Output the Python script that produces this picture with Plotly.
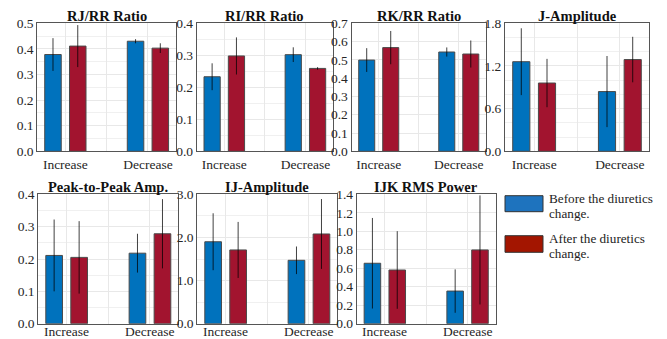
import plotly.graph_objects as go

# ---------------- data ----------------
categories = ["Increase", "Decrease"]
titles = ["RJ/RR Ratio", "RI/RR Ratio", "RK/RR Ratio", "J-Amplitude",
          "Peak-to-Peak Amp.", "IJ-Amplitude", "IJK RMS Power"]

before_mean = [
    [0.378, 0.430],
    [0.233, 0.302],
    [0.499, 0.543],
    [1.26, 0.84],
    [0.211, 0.218],
    [1.90, 1.47],
    [0.654, 0.353],
]
before_err = [
    [0.064, 0.008],
    [0.042, 0.023],
    [0.065, 0.025],
    [0.47, 0.50],
    [0.111, 0.060],
    [0.66, 0.32],
    [0.49, 0.235],
]
after_mean = [
    [0.411, 0.403],
    [0.298, 0.259],
    [0.567, 0.532],
    [0.96, 1.29],
    [0.205, 0.278],
    [1.71, 2.08],
    [0.581, 0.798],
]
after_err = [
    [0.082, 0.019],
    [0.058, 0.004],
    [0.091, 0.074],
    [0.34, 0.32],
    [0.112, 0.107],
    [0.65, 0.81],
    [0.42, 0.59],
]

y_ranges = [[0, 0.5], [0, 0.4], [0, 0.7], [0, 1.8], [0, 0.4], [0, 3.0], [0, 1.4]]
y_dticks = [0.1, 0.1, 0.1, 0.6, 0.1, 1.0, 0.2]
y_minor = [0.05, 0.05, None, 0.2, 0.05, 0.5, None]

legend_labels = [["Before the diuretics", "change."], ["After the diuretics", "change."]]

# ---------------- layout geometry ----------------
# The page body has an 8px margin, so the figure is drawn at (8, 8) in the window.
OFF = 8
W, H = 667 - OFF, 339 - OFF


def fx(px):
    return (px - OFF) / W


def fy(py):
    return 1 - (py - OFF) / H


x_px = [(37.3, 176), (196.7, 333), (351.5, 486), (505, 649),
        (38.3, 178.3), (197.3, 337.3), (356.7, 495.7)]
top_row_px = (23.3, 151.3)
bot_row_px = (194.3, 323.7)

BLUE = "#0072BD"
RED = "#A2142F"
FONT = "Liberation Serif"
xpos = [0, 1]

fig = go.Figure()
layout = dict(
    template="none",
    width=W, height=H, margin=dict(l=0, r=0, t=0, b=0, pad=0, autoexpand=False),
    paper_bgcolor="white", plot_bgcolor="white",
    showlegend=False,
    font=dict(family=FONT, size=13, color="#262626"),
)
annotations = []
shapes = []

for i in range(7):
    n = "" if i == 0 else str(i + 1)
    xa = "x" + n
    ya = "y" + n
    top = i < 4
    rowpx = top_row_px if top else bot_row_px
    xd = [fx(x_px[i][0]), fx(x_px[i][1])]
    yd = [fy(rowpx[1]), fy(rowpx[0])]

    for means, errs, col, off in [(before_mean[i], before_err[i], BLUE, -0.25),
                                  (after_mean[i], after_err[i], RED, 0.05)]:
        fig.add_trace(go.Bar(
            x=xpos, y=means, width=0.2, offset=off,
            marker=dict(color=col, line=dict(color="#4a4a4a", width=1)),
            error_y=dict(type="data", array=errs, visible=True,
                         color="rgba(0,0,0,0.75)", thickness=1, width=0),
            xaxis=xa, yaxis=ya,
        ))

    layout["xaxis" + n] = dict(
        domain=xd, anchor=ya, range=[-0.34, 1.34], automargin=False,
        tickvals=[0, 0.5, 1], ticktext=[categories[0], "", categories[1]],
        showticklabels=top,
        showgrid=True, gridcolor="#e8e8e8", gridwidth=1,
        showline=True, mirror=True, linecolor="#555555", linewidth=1,
        ticks="", zeroline=False, tickfont=dict(size=13.5, family=FONT, color="#262626"),
        fixedrange=True,
    )
    if not top:
        # bottom-row category labels sit a little closer to the axis (as in the reference)
        for xv, cat in zip(xpos, categories):
            annotations.append(dict(
                text=cat, xref=xa, yref="paper", x=xv, y=fy(331.5),
                xanchor="center", yanchor="middle", showarrow=False,
                font=dict(family=FONT, size=13.5, color="#262626"),
            ))
    ycfg = dict(
        domain=yd, anchor=xa, range=y_ranges[i], dtick=y_dticks[i], tick0=0,
        automargin=False,
        tickformat=".1f", showgrid=True, gridcolor="#e8e8e8", gridwidth=1,
        showline=True, mirror=True, linecolor="#555555", linewidth=1,
        ticks="", zeroline=False, tickfont=dict(size=13.5, family=FONT, color="#262626"),
        fixedrange=True,
    )
    if y_minor[i]:
        ycfg["minor"] = dict(dtick=y_minor[i], showgrid=True, gridcolor="#f0f0f0", gridwidth=1)
    layout["yaxis" + n] = ycfg

    title_y = 15.7 if top else 186.5
    annotations.append(dict(
        text="<b>" + titles[i] + "</b>", xref="paper", yref="paper",
        x=(xd[0] + xd[1]) / 2, y=fy(title_y), xanchor="center", yanchor="middle",
        showarrow=False, font=dict(family=FONT, size=14.5, color="#111111"),
    ))

# ---------------- legend (drawn) ----------------
legend_items = [
    ("#1E73BE", (195.7, 211.7), (198.5, 213.5)),
    ("#A31500", (235.7, 252.3), (238.0, 253.5)),
]
for k, (col, (r0, r1), (t0, t1)) in enumerate(legend_items):
    shapes.append(dict(type="rect", xref="paper", yref="paper",
                       x0=fx(505), x1=fx(543), y0=fy(r1), y1=fy(r0),
                       fillcolor=col, line=dict(color="#333333", width=1)))
    for line_txt, ty in zip(legend_labels[k], (t0, t1)):
        annotations.append(dict(
            text=line_txt, xref="paper", yref="paper", x=fx(546.5), y=fy(ty),
            xanchor="left", yanchor="middle", showarrow=False,
            font=dict(family=FONT, size=13.2, color="#222222"),
        ))

layout["annotations"] = annotations
layout["shapes"] = shapes
fig.update_layout(**layout)
fig.write_html("out.html")
